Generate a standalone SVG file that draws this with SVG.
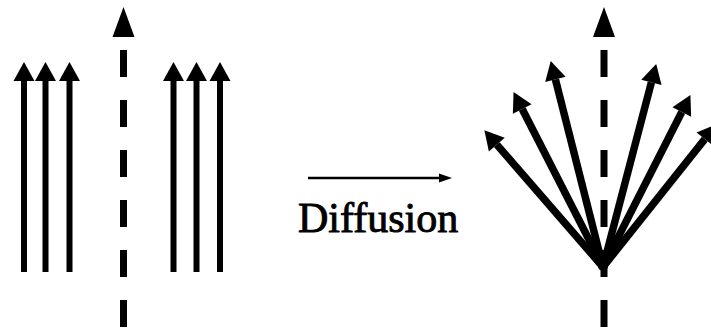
<svg xmlns="http://www.w3.org/2000/svg" width="711" height="328" viewBox="0 0 711 328">
<defs>
<style>
.ar{stroke:#000;stroke-width:6;fill:none;marker-end:url(#ah)}
.fan{stroke:#000;stroke-width:7.5;fill:none;marker-end:url(#ah)}
.dash{stroke:#000;stroke-width:7;stroke-dasharray:27 23;fill:none}
.lbl{font-family:"Liberation Serif","Times New Roman",serif;font-size:42px;fill:#000;stroke:#000;stroke-width:0.9}
</style>
<marker id="ah" markerUnits="userSpaceOnUse" orient="auto" refX="0" refY="0" markerWidth="20" markerHeight="22" viewBox="0 -11 20 22" overflow="visible">
<path d="M0,-10.5 L19,0 L0,10.5 Z" fill="#000"/>
</marker>
<marker id="sh" markerUnits="userSpaceOnUse" orient="auto" refX="0" refY="0" markerWidth="14" markerHeight="10" viewBox="0 -5 14 10" overflow="visible">
<path d="M0,-4.5 L13,0 L0,4.5 Z" fill="#000"/>
</marker>
</defs>
<g id="left-panel">
<g id="axis-left">
<line class="dash" x1="123.5" y1="50" x2="123.5" y2="328"/>
<polygon points="123.5,7 112.5,37 134.5,37" fill="#000"/>
</g>
<g id="beam-left">
<line class="ar" x1="24" y1="272" x2="24" y2="81"/>
<line class="ar" x1="45.5" y1="272" x2="45.5" y2="81"/>
<line class="ar" x1="69.5" y1="272" x2="69.5" y2="81"/>
</g>
<g id="beam-right">
<line class="ar" x1="173.5" y1="272" x2="173.5" y2="81"/>
<line class="ar" x1="196.5" y1="272" x2="196.5" y2="81"/>
<line class="ar" x1="220" y1="272" x2="220" y2="81"/>
</g>
</g>
<g id="diffusion-arrow">
<line x1="308" y1="178" x2="439" y2="178" stroke="#000" stroke-width="2.5" marker-end="url(#sh)"/>
<text class="lbl" x="298" y="232">Diffusion</text>
</g>
<g id="right-panel">
<g id="axis-right">
<line class="dash" x1="604" y1="50" x2="604" y2="328"/>
<polygon points="604,7 593,37 615,37" fill="#000"/>
</g>
<g id="fan">
<line class="fan" x1="603" y1="267" x2="496.8" y2="144.6"/>
<line class="fan" x1="603" y1="267" x2="522.2" y2="109"/>
<line class="fan" x1="603" y1="267" x2="555.4" y2="79.4"/>
<line class="fan" x1="603" y1="267" x2="651.4" y2="82.4"/>
<line class="fan" x1="603" y1="267" x2="681.8" y2="112"/>
<line class="fan" x1="603" y1="267" x2="704.8" y2="139.1"/>
<circle cx="603" cy="266" r="5" fill="#000"/>
</g>
</g>
</svg>
